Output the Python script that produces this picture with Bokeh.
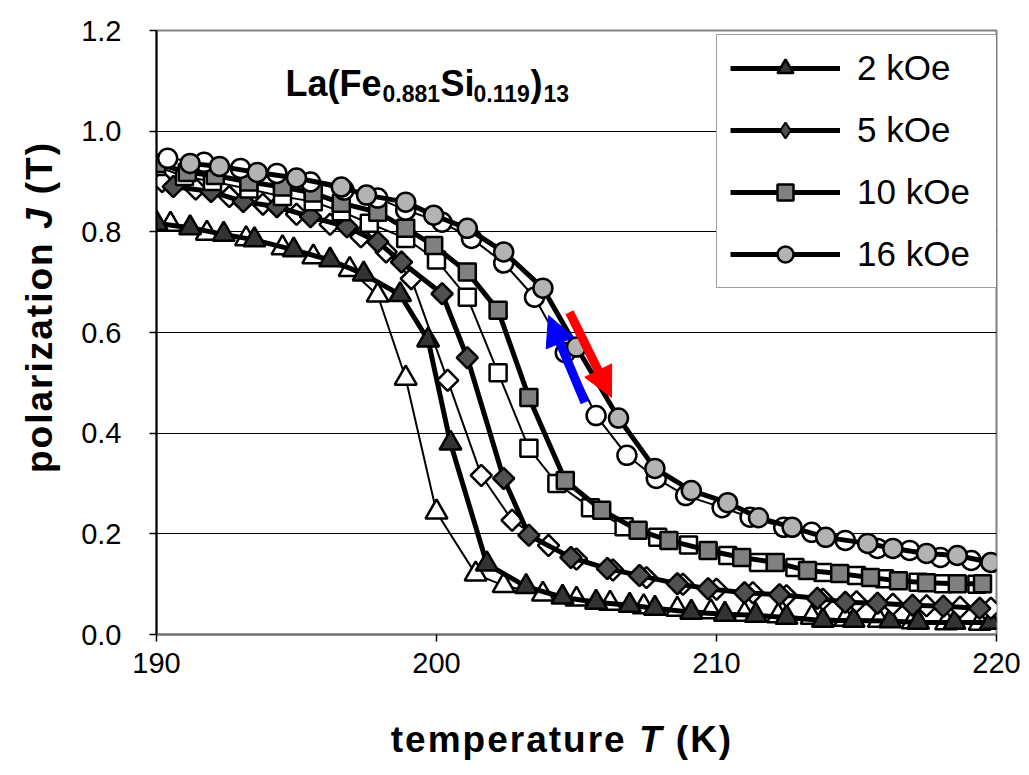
import math
from bokeh.plotting import figure
from bokeh.layouts import row, column
from bokeh.models import (Legend, LegendItem, Label, Arrow, NormalHead, Div,
                          FixedTicker, PrintfTickFormatter)
from bokeh.embed import file_html
from bokeh.resources import INLINE

# ---------------- data ----------------
fields = ["2 kOe", "5 kOe", "10 kOe", "16 kOe"]

T2_heat = [190.0, 191.2, 192.4, 193.5, 194.9, 196.2, 197.4, 198.7, 199.7, 200.5, 201.8, 203.2, 204.5,
           205.7, 206.9, 207.8, 209.1, 210.3, 211.4, 212.5, 213.8, 214.9, 216.2, 217.2, 218.5, 219.8]
J2_heat = [0.817, 0.808, 0.795, 0.784, 0.764, 0.744, 0.716, 0.675, 0.585, 0.38, 0.14, 0.095, 0.074,
           0.064, 0.058, 0.052, 0.044, 0.040, 0.038, 0.034, 0.028, 0.028, 0.027, 0.024, 0.024, 0.024]
T2_cool = [190.5, 191.8, 193.2, 194.5, 195.6, 196.9, 197.9, 198.9, 200.0, 201.4, 202.4, 203.8, 205.0,
           206.2, 207.4, 208.6, 209.8, 211.0, 212.2, 213.4, 214.6, 215.8, 217.0, 218.2, 219.4]
J2_cool = [0.815, 0.797, 0.786, 0.768, 0.75, 0.725, 0.674, 0.509, 0.243, 0.12, 0.097, 0.08, 0.07,
           0.062, 0.055, 0.05, 0.045, 0.04, 0.037, 0.034, 0.03, 0.028, 0.025, 0.023, 0.022]

T5_heat = [190.6, 191.95, 193.1, 194.3, 195.5, 196.8, 197.9, 198.75, 200.2, 201.1, 202.4, 203.3, 204.8,
           206.1, 207.25, 208.6, 209.7, 211.0, 212.25, 213.6, 214.6, 215.75, 217.0, 218.1, 219.4]
J5_heat = [0.89, 0.88, 0.86, 0.85, 0.83, 0.81, 0.78, 0.74, 0.677, 0.55, 0.31, 0.197, 0.153,
           0.131, 0.117, 0.101, 0.091, 0.083, 0.079, 0.072, 0.064, 0.062, 0.058, 0.056, 0.052]
T5_cool = [190.2, 191.4, 192.6, 193.8, 195.0, 196.2, 197.3, 198.2, 199.1, 200.4, 201.6, 202.7, 204.0,
           205.0, 206.3, 207.5, 208.8, 210.0, 211.3, 212.5, 213.8, 215.0, 216.3, 217.5, 218.7, 219.8]
J5_cool = [0.9, 0.885, 0.87, 0.855, 0.835, 0.815, 0.79, 0.76, 0.707, 0.505, 0.316, 0.227, 0.177,
           0.15, 0.128, 0.113, 0.1, 0.09, 0.083, 0.077, 0.07, 0.065, 0.06, 0.057, 0.054, 0.052]

T10_heat = [190.0, 191.1, 192.1, 193.3, 194.5, 195.6, 196.6, 197.9, 198.9, 199.9, 201.1, 202.2, 203.3,
            204.6, 205.9, 207.2, 208.3, 209.7, 210.9, 212.1, 213.25, 214.4, 215.5, 216.5, 217.5, 218.6, 219.5]
J10_heat = [0.936, 0.918, 0.912, 0.899, 0.889, 0.877, 0.857, 0.839, 0.807, 0.773, 0.72, 0.644, 0.471,
            0.306, 0.247, 0.207, 0.187, 0.167, 0.153, 0.143, 0.127, 0.121, 0.113, 0.107, 0.103, 0.101, 0.101]
T10_cool = [190.0, 191.0, 192.0, 193.3, 194.5, 195.6, 196.6, 197.6, 198.9, 200.0, 201.1, 202.2, 203.3,
            204.3, 205.5, 206.7, 207.9, 209.0, 210.4, 211.5, 212.8, 213.8, 215.0, 216.0, 217.2, 218.1, 219.3]
J10_cool = [0.93, 0.91, 0.9, 0.885, 0.87, 0.86, 0.84, 0.817, 0.787, 0.744, 0.67, 0.52, 0.37,
            0.3, 0.252, 0.214, 0.193, 0.178, 0.157, 0.143, 0.133, 0.123, 0.117, 0.111, 0.104, 0.101, 0.1]

T16_heat = [191.2, 192.25, 193.6, 195.0, 196.6, 197.5, 198.9, 199.9, 201.1, 202.4, 203.8, 205.0,
            206.5, 207.8, 209.1, 210.4, 211.5, 212.7, 213.9, 215.4, 216.3, 217.5, 218.6, 219.8]
J16_heat = [0.936, 0.93, 0.918, 0.907, 0.889, 0.873, 0.859, 0.833, 0.807, 0.76, 0.688, 0.571,
            0.43, 0.33, 0.286, 0.262, 0.232, 0.213, 0.193, 0.181, 0.171, 0.161, 0.157, 0.143]
T16_cool = [190.4, 191.7, 193.0, 194.3, 195.5, 196.7, 197.9, 198.9, 200.2, 201.25, 202.4, 203.5, 204.6,
            205.7, 206.8, 207.85, 208.9, 210.2, 211.2, 212.4, 213.4, 214.6, 215.75, 216.9, 218.0, 219.1]
J16_cool = [0.946, 0.938, 0.926, 0.916, 0.899, 0.883, 0.867, 0.843, 0.819, 0.787, 0.738, 0.67, 0.56,
            0.435, 0.356, 0.31, 0.276, 0.252, 0.233, 0.213, 0.203, 0.187, 0.171, 0.167, 0.153, 0.147]

x_ticks = [190, 200, 210, 220]
y_ticks = [0.0, 0.2, 0.4, 0.6, 0.8, 1.0, 1.2]

# arrows (heating red down, cooling blue up)
red_arrow = (204.75, 0.640, 206.25, 0.471)
blue_arrow = (205.3, 0.461, 204.0, 0.634)

# ---------------- layout constants ----------------
FW, FH = 840, 604
X0, X1, Y0, Y1 = 190, 220, 0.0, 1.2
SX = FW / (X1 - X0)
SY = FH / (Y1 - Y0)
FONT = "Liberation Sans"
LW = 70                 # left label strip width
BL, BR, TOP, BOT = 86, 30, 30, 58
MAIN_W = BL + FW + BR
MAIN_H = TOP + FH + BOT
BH = 80                 # bottom label strip height
FL = LW + BL            # page x of frame left
FB = TOP + FH           # page y of frame bottom

p = figure(frame_width=FW, frame_height=FH, x_range=(X0, X1), y_range=(Y0, Y1),
           min_border_left=BL, min_border_right=BR, min_border_top=TOP, min_border_bottom=BOT,
           output_backend="svg", toolbar_location=None, margin=0)
p.background_fill_color = "white"
p.border_fill_color = "white"
p.outline_line_color = "#808080"
p.outline_line_width = 2

p.xgrid.grid_line_color = None
p.ygrid.grid_line_color = "#000000"
p.ygrid.grid_line_width = 1

for ax in (p.xaxis[0], p.yaxis[0]):
    ax.major_label_text_font = FONT
    ax.major_label_text_font_size = "29px"
    ax.major_label_text_color = "black"
    ax.minor_tick_line_color = None
    ax.major_tick_in = 0
    ax.major_tick_out = 7
    ax.major_tick_line_color = "black"
    ax.major_tick_line_width = 1.5
    ax.axis_label = None
p.xaxis.ticker = FixedTicker(ticks=x_ticks)
p.yaxis.ticker = FixedTicker(ticks=y_ticks)
p.yaxis.formatter = PrintfTickFormatter(format="%.1f")
p.xaxis.major_label_standoff = 11
p.yaxis.major_label_standoff = 28
p.yaxis.axis_line_color = "black"
p.yaxis.axis_line_width = 2
p.xaxis.axis_line_color = "#707070"
p.xaxis.axis_line_width = 2

series = [
    ("2 kOe", T2_heat, J2_heat, T2_cool, J2_cool, "triangle", 0.0, "#333333", 22),
    ("5 kOe", T5_heat, J5_heat, T5_cool, J5_cool, "square", math.pi / 4, "#505050", 15),
    ("10 kOe", T10_heat, J10_heat, T10_cool, J10_cool, "square", 0.0, "#808080", 17),
    ("16 kOe", T16_heat, J16_heat, T16_cool, J16_cool, "circle", 0.0, "#b3b3b3", 19),
]

items = []
for label, th, jh, tc, jc, mk, ang, col, sz in series:
    p.line(tc, jc, line_color="black", line_width=2)
    p.scatter(tc, jc, marker=mk, angle=ang, size=sz, fill_color="white",
              line_color="black", line_width=2.5)
    lr = p.line(th, jh, line_color="black", line_width=5)
    sr = p.scatter(th, jh, marker=mk, angle=ang, size=sz, fill_color=col,
                   line_color="black", line_width=2.5)
    rends = [lr, sr]
    if ang != 0.0:
        # legend-only diamond (rotated squares are drawn unrotated in legends)
        dr = p.scatter(th, jh, marker="diamond", size=sz, fill_color=col,
                       line_color="black", line_width=2, visible=False)
        rends = [lr, dr]
    items.append(LegendItem(label=label, renderers=rends))

# arrows
def add_arrow(a, color):
    x0, y0, x1, y1 = a
    dx = (x1 - x0) * SX
    dy = (y1 - y0) * SY
    L = math.hypot(dx, dy)
    head = 30
    bx = x1 - dx / L * head * 0.85 / SX
    by = y1 - dy / L * head * 0.85 / SY
    p.segment(x0=[x0], y0=[y0], x1=[bx], y1=[by], line_color=color, line_width=9, line_cap="butt")
    p.add_layout(Arrow(end=NormalHead(size=head, fill_color=color, line_color=color, line_width=1),
                       x_start=bx, y_start=by, x_end=x1, y_end=y1, line_alpha=0, line_width=1))

add_arrow(red_arrow, "#ff0000")
add_arrow(blue_arrow, "#0000ff")

legend = Legend(items=items, location=(716 - FL, FB - 288), margin=0, padding=13,
                label_text_font=FONT, label_text_font_size="35px", label_text_color="black",
                glyph_width=110, glyph_height=40, label_height=40, spacing=22,
                label_standoff=17, label_width=128,
                border_line_color="#404040", border_line_width=1.5,
                background_fill_color="white", background_fill_alpha=1.0,
                inactive_fill_alpha=0.0)
p.add_layout(legend)

# ---------- title with subscripts ----------
tx = X0 + (285 - FL) / SX
ty = (FB - 83) / SY
sub_dy = 10 / SY
pieces = [("La(Fe", 0, False), ("0.881", 97, True), ("Si", 155, False),
          ("0.119", 188, True), (")", 245, False), ("13", 258, True)]
for txt, off, sub in pieces:
    p.add_layout(Label(x=tx, y=ty - (sub_dy if sub else 0), x_offset=off, text=txt,
                       text_font=FONT, text_font_style="bold",
                       text_font_size="23px" if sub else "36px",
                       text_baseline="alphabetic", text_align="left", text_color="black"))

# ---------- axis labels as HTML (italic symbols) ----------
LBL = ("font-family:'Liberation Sans'; font-weight:bold; font-size:37px; color:black; "
       "letter-spacing:2px; white-space:nowrap; position:absolute; line-height:1.15;")
xlab = Div(text=f'<div style="{LBL} left:{562 - LW}px; top:{740 - MAIN_H}px; '
                f'transform:translate(-50%,-50%);">temperature <i>T</i> (K)</div>',
           width=MAIN_W, height=BH, margin=0,
           styles={"position": "relative", "overflow": "visible"})
ylab = Div(text=f'<div style="{LBL} left:40px; top:307px; '
                f'transform:translate(-50%,-50%) rotate(-90deg);">polarization <i>J</i> (T)</div>',
           width=LW, height=MAIN_H, margin=0,
           styles={"position": "relative", "overflow": "visible"})

layout = row(ylab, column(p, xlab, spacing=0), spacing=0)
open("out.html", "w").write(file_html(layout, INLINE))
